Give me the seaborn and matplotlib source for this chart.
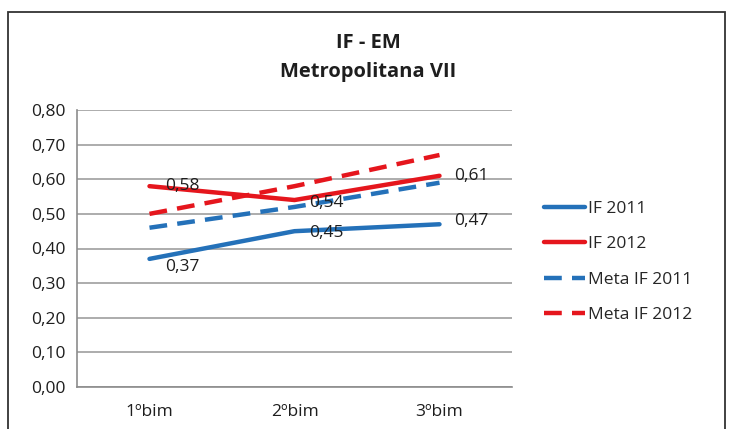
import matplotlib
matplotlib.use("Agg")
import matplotlib.pyplot as plt
import seaborn as sns
import pandas as pd
from matplotlib.patches import Rectangle

# Bimesters and index values
categories = ["1ºbim", "2ºbim", "3ºbim"]
if_2011 = [0.37, 0.45, 0.47]
if_2012 = [0.58, 0.54, 0.61]
meta_2011 = [0.46, 0.52, 0.59]
meta_2012 = [0.50, 0.58, 0.67]
y_ticks = [0.0, 0.1, 0.2, 0.3, 0.4, 0.5, 0.6, 0.7, 0.8]

BLUE = "#2471b9"
RED = "#e5161d"
TXT = "#1e1e1e"
FS = 12.5

sns.set_theme(style="white")
plt.rcParams["font.family"] = ["Open Sans", "DejaVu Sans"]

fig = plt.figure(figsize=(7.45, 4.29), dpi=100)
ax = fig.add_axes([77 / 745, 1 - 387 / 429, (512 - 77) / 745, (387 - 110) / 429])

series = [
    ("IF 2011", if_2011, BLUE, "-"),
    ("IF 2012", if_2012, RED, "-"),
    ("Meta IF 2011", meta_2011, BLUE, "--"),
    ("Meta IF 2012", meta_2012, RED, "--"),
]
x = list(range(len(categories)))
for name, vals, color, ls in series:
    df = pd.DataFrame({"x": x, "v": vals})
    sns.lineplot(data=df, x="x", y="v", ax=ax, color=color, linewidth=3.2,
                 label=name, legend=False)
    l = ax.get_lines()[-1]
    if ls == "--":
        l.set_dashes((4, 2.3))
    l.set_solid_capstyle("round")

# value labels for the actual indices
def fmt(v):
    return f"{v:.2f}".replace(".", ",")

for vals, offs in [(if_2011, [(16, -8), (15, -2), (15, 3)]),
                   (if_2012, [(16, 0), (15, -3), (15, 0)])]:
    for i, v in enumerate(vals):
        dx, dy = offs[i]
        ax.annotate(fmt(v), (i, v), xytext=(dx, dy), textcoords="offset pixels",
                    ha="left", va="center", fontsize=FS, color=TXT)

ax.set_xlim(-0.5, 2.5)
ax.set_ylim(0, 0.8)
ax.set_yticks(y_ticks)
ax.set_yticklabels([fmt(t) for t in y_ticks], fontsize=FS, color=TXT)
ax.set_xticks([-0.5, 0.5, 1.5, 2.5])
ax.set_xticklabels([])
ax.set_xticks(x, minor=True)
ax.set_xticklabels(categories, minor=True, fontsize=FS, color=TXT)
ax.tick_params(axis="x", which="major", length=5, width=1, color="#8c8c8c", direction="out")
ax.tick_params(axis="x", which="minor", length=0, pad=12)
ax.tick_params(axis="y", length=5, width=1, color="#8c8c8c", direction="out", pad=3)
ax.set_xlabel("")
ax.set_ylabel("")
ax.yaxis.grid(True, color="#a6a6a6", linewidth=1.3)
ax.set_axisbelow(True)
for s in ["top", "right"]:
    ax.spines[s].set_visible(False)
for s in ["left", "bottom"]:
    ax.spines[s].set_color("#8c8c8c")
    ax.spines[s].set_linewidth(1.2)

handles, labels = ax.get_legend_handles_labels()
fig.legend(handles, labels, loc="center left", bbox_to_anchor=(528 / 745, 1 - 262 / 429),
           frameon=False, fontsize=FS, handlelength=2.4, handletextpad=0.15,
           labelspacing=1.1)

fig.text(368 / 745, 1 - 43 / 429, "IF - EM", ha="center", va="center",
         fontsize=14.5, fontweight="bold", color=TXT)
fig.text(368 / 745, 1 - 72 / 429, "Metropolitana VII", ha="center", va="center",
         fontsize=14.5, fontweight="bold", color=TXT)

# chart frame
fig.add_artist(Rectangle((8 / 745, -0.05), (725 - 8) / 745, 1.05 - 12 / 429,
                         transform=fig.transFigure, fill=False,
                         edgecolor="#333333", linewidth=1.3))

fig.savefig("out.png", dpi=100)
